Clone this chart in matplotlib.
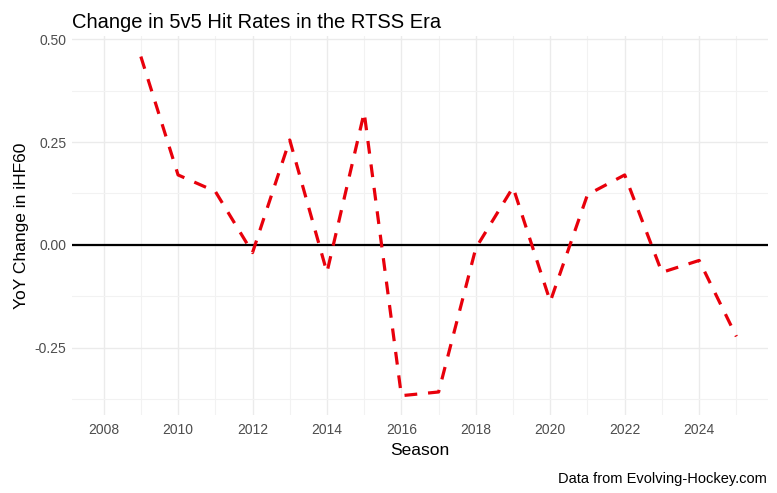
import matplotlib
matplotlib.use("Agg")
import matplotlib.pyplot as plt
from matplotlib.ticker import MultipleLocator

plt.rcParams['font.family'] = ['Liberation Sans', 'DejaVu Sans']

seasons = [2009, 2010, 2011, 2012, 2013, 2014, 2015, 2016, 2017,
           2018, 2019, 2020, 2021, 2022, 2023, 2024, 2025]
yoy_change = [0.458, 0.170, 0.130, -0.019, 0.255, -0.067, 0.322, -0.367, -0.358,
              -0.008, 0.140, -0.138, 0.122, 0.170, -0.067, -0.038, -0.223]

fig = plt.figure(figsize=(7.77, 4.93), dpi=100)
ax = fig.add_axes([72/777, 78/493, 696/777, 379/493])

ax.axhline(0, color='black', lw=1.6, zorder=2)
ax.plot(seasons, yoy_change, color='#e8000b', lw=2.3, linestyle=(0, (4, 3.4)), zorder=3)

ax.set_xlim(2007.15, 2025.85)
ax.set_ylim(-0.414, 0.508)
ax.xaxis.set_major_locator(MultipleLocator(2))
ax.xaxis.set_minor_locator(MultipleLocator(1))
ax.yaxis.set_major_locator(MultipleLocator(0.25))
ax.yaxis.set_minor_locator(MultipleLocator(0.125))
ax.yaxis.set_major_formatter(plt.FuncFormatter(lambda v, p: f"{v:.2f}"))

ax.grid(which='major', color='#ebebeb', lw=1.0)
ax.grid(which='minor', color='#f2f2f2', lw=0.8)
ax.set_axisbelow(True)
for s in ax.spines.values():
    s.set_visible(False)
ax.tick_params(which='both', length=0)
ax.tick_params(axis='both', labelsize=10, labelcolor='#4d4d4d', pad=4)
ax.tick_params(axis='x', pad=6)

ax.set_xlabel('Season', fontsize=12.5, labelpad=4)
ax.set_ylabel('YoY Change in iHF60', fontsize=12.5, labelpad=4)
ax.set_title('Change in 5v5 Hit Rates in the RTSS Era', fontsize=14.5, loc='left', pad=6)
fig.text(767/777, 7/493, 'Data from Evolving-Hockey.com', ha='right', va='bottom', fontsize=10.5)

fig.savefig('out.png', dpi=100)
